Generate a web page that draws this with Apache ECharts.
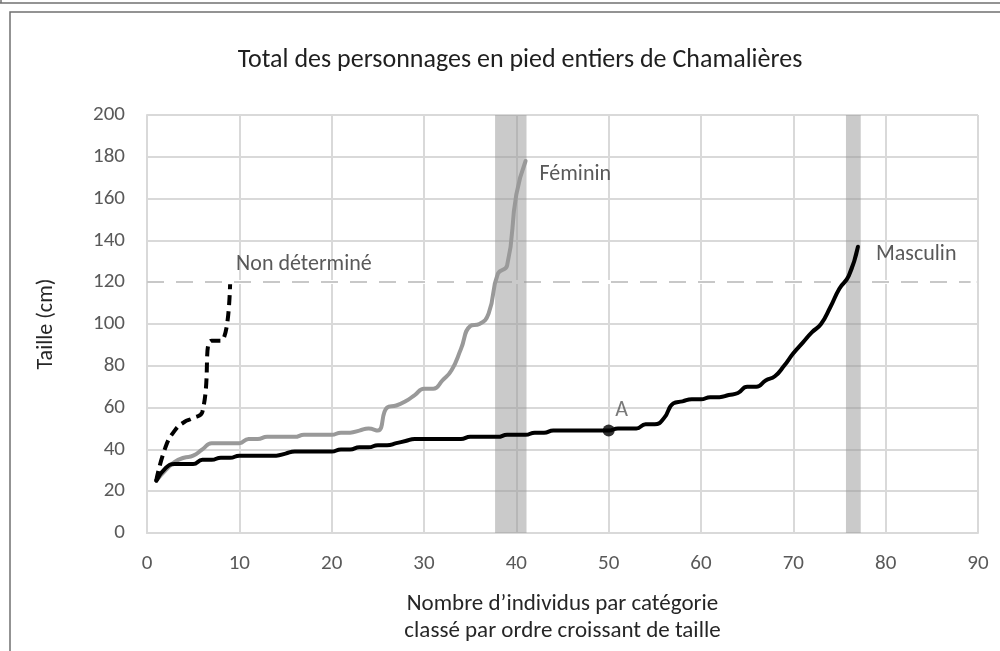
<!DOCTYPE html>
<html>
<head>
<meta charset="utf-8">
<title>Total des personnages en pied entiers de Chamalières</title>
<script src="https://cdn.jsdelivr.net/npm/echarts@6.0.0/dist/echarts.min.js"></script>
<style>
  html, body { margin: 0; padding: 0; background: #ffffff; }
  #chart { width: 1000px; height: 651px; }
</style>
</head>
<body>
<div id="chart"></div>
<script>
// Heights (cm) of each figure, sorted ascending within its category.
const nonDetermine = [25, 41, 49, 53, 55, 58, 92, 92, 119];
const feminin = [25, 30, 34, 36, 37, 40, 43, 43, 43, 43,
                 45, 45, 46, 46, 46, 46, 47, 47, 47, 47,
                 48, 48, 49, 50, 49, 60, 61, 63, 66, 69,
                 69, 73, 78, 88, 99, 100, 105, 124, 128, 162,
                 178];
const masculin = [25, 31, 33, 33, 33, 35, 35, 36, 36, 37,
                  37, 37, 37, 37, 38, 39, 39, 39, 39, 39,
                  40, 40, 41, 41, 42, 42, 43, 44, 45, 45,
                  45, 45, 45, 45, 46, 46, 46, 46, 47, 47,
                  47, 48, 48, 49, 49, 49, 49, 49, 49, 49,
                  50, 50, 50, 52, 52, 55, 62, 63, 64, 64,
                  65, 65, 66, 67, 70, 70, 73, 75, 80, 86,
                  91, 96, 100, 108, 117, 123, 137];
// Highlighted rank ranges and the marked individual.
const bands = [[37.7, 41.1], [75.7, 77.3]];
const pointA = [50, 49];
const seuil = 120;

const xTicks = [0, 10, 20, 30, 40, 50, 60, 70, 80, 90];
const yTicks = [0, 20, 40, 60, 80, 100, 120, 140, 160, 180, 200];

const toPairs = arr => arr.map((v, i) => [i + 1, v]);

const FONT = 'Carlito, Lato, sans-serif';
const GRID = '#d9d9d9';
const LABEL = '#595959';

const chart = echarts.init(document.getElementById('chart'), null, { renderer: 'canvas' });

chart.setOption({
  animation: false,
  backgroundColor: '#ffffff',
  textStyle: { fontFamily: FONT },
  graphic: [
    { type: 'line', shape: { x1: 0, y1: 3, x2: 1000, y2: 3 }, style: { stroke: '#707070', lineWidth: 1.5 } },
    { type: 'line', shape: { x1: 1, y1: 0, x2: 1, y2: 3 }, style: { stroke: '#707070', lineWidth: 1.5 } },
    { type: 'rect', shape: { x: 10, y: 12, width: 1100, height: 700 }, style: { fill: 'none', stroke: '#707070', lineWidth: 1.5 } },
    {
      type: 'text', x: 520, y: 60,
      style: {
        text: 'Total des personnages en pied entiers de Chamalières',
        font: '26px ' + FONT, fill: '#1f1f1f', align: 'center', verticalAlign: 'middle'
      }
    }
  ],
  grid: { left: 147, right: 22, top: 115, bottom: 118, containLabel: false },
  xAxis: {
    type: 'value', min: xTicks[0], max: xTicks[xTicks.length - 1], interval: 10,
    name: 'Nombre d\u2019individus par catégorie\nclassé par ordre croissant de taille',
    nameLocation: 'middle', nameGap: 58,
    nameTextStyle: { fontSize: 23, color: '#262626', lineHeight: 27, fontFamily: FONT },
    axisLine: { show: true, lineStyle: { color: GRID, width: 2 } },
    axisTick: { show: false },
    axisLabel: { fontSize: 21, color: LABEL, margin: 20, fontFamily: FONT },
    splitLine: { show: true, lineStyle: { color: GRID, width: 2 } }
  },
  yAxis: {
    type: 'value', min: yTicks[0], max: yTicks[yTicks.length - 1], interval: 20,
    name: 'Taille (cm)', nameLocation: 'middle', nameGap: 90, nameRotate: 90,
    nameTextStyle: { fontSize: 22, color: '#262626', fontFamily: FONT },
    axisLine: { show: true, lineStyle: { color: GRID, width: 2 } },
    axisTick: { show: false },
    axisLabel: { fontSize: 21, color: LABEL, margin: 22, fontFamily: FONT },
    splitLine: { show: true, lineStyle: { color: GRID, width: 2 } }
  },
  series: [
    {
      // dashed 120 cm threshold, drawn beneath the bands and curves
      name: 'Seuil',
      type: 'line',
      data: [],
      silent: true,
      z: 1,
      markLine: {
        silent: true,
        z: 1,
        symbol: 'none',
        label: { show: false },
        data: [
          // white backing hides the grid line under the dashed threshold
          [{ coord: [0.15, seuil], lineStyle: { color: '#ffffff', type: 'solid', width: 4 } },
           { coord: [89.85, seuil] }],
          [{ coord: [0, seuil], lineStyle: { color: '#c8c8c8', type: [17, 12], width: 2 } },
           { coord: [89.2, seuil] }]
        ]
      }
    },
    {
      name: 'Bandes',
      type: 'line',
      data: [],
      silent: true,
      z: 2,
      markArea: {
        silent: true,
        z: 2,
        itemStyle: { color: 'rgba(150,150,150,0.5)' },
        data: bands.map(b => [{ xAxis: b[0] }, { xAxis: b[1] }])
      }
    },
    {
      name: 'Féminin',
      type: 'line',
      data: toPairs(feminin),
      smooth: 0.5,
      showSymbol: false,
      lineStyle: { color: '#999999', width: 4, cap: 'round', join: 'round' },
      endLabel: {
        show: true, formatter: 'Féminin', color: LABEL, fontSize: 22,
        fontFamily: FONT, offset: [6, 14]
      },
      z: 3
    },
    {
      name: 'Masculin',
      type: 'line',
      data: toPairs(masculin),
      smooth: 0.5,
      showSymbol: false,
      lineStyle: { color: '#000000', width: 4, cap: 'round', join: 'round' },
      endLabel: {
        show: true, formatter: 'Masculin', color: LABEL, fontSize: 22,
        fontFamily: FONT, offset: [10, 8]
      },
      z: 4
    },
    {
      name: 'Non déterminé',
      type: 'line',
      data: toPairs(nonDetermine),
      smooth: 0.5,
      showSymbol: false,
      lineStyle: { color: '#000000', width: 4, type: [10, 6] },
      endLabel: {
        show: true, formatter: 'Non déterminé', color: LABEL, fontSize: 22,
        fontFamily: FONT, offset: [-2, -20]
      },
      z: 4
    },
    {
      name: 'A',
      type: 'scatter',
      data: [pointA],
      symbolSize: 12,
      itemStyle: { color: '#000000' },
      label: {
        show: true, formatter: 'A', position: 'top', offset: [13, 2],
        color: LABEL, fontSize: 22, fontFamily: FONT
      },
      z: 5
    }
  ]
});
</script>
</body>
</html>
